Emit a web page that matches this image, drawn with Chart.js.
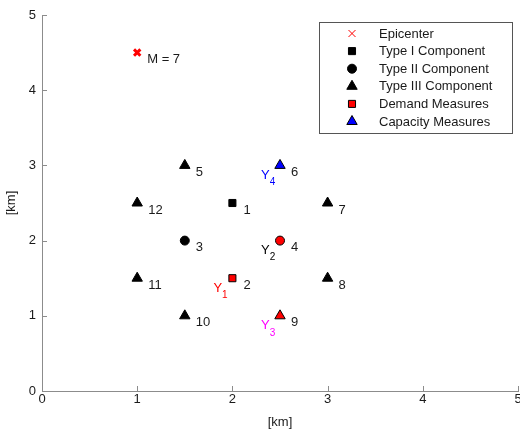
<!DOCTYPE html>
<html>
<head>
<meta charset="utf-8">
<script src="https://cdn.jsdelivr.net/npm/chart.js@4.4.1/dist/chart.umd.min.js"></script>
<style>
  html, body { margin: 0; padding: 0; background: #fff; }
  #wrap { width: 520px; height: 435px; }
</style>
</head>
<body>
<div id="wrap"><canvas id="chart" width="520" height="435"></canvas></div>
<script>
// epicenter
const epicenterX = [1];
const epicenterY = [4.5];
const epicenterText = 'M = 7';

// components, numbered 1..12
const compIds = ['1', '2', '3', '4', '5', '6', '7', '8', '9', '10', '11', '12'];
const compX = [2, 2, 1.5, 2.5, 1.5, 2.5, 3, 3, 2.5, 1.5, 1, 1];
const compY = [2.5, 1.5, 2, 2, 3, 3, 2.5, 1.5, 1, 1, 1.5, 2.5];
const compShape = ['rect', 'rect', 'circle', 'circle', 'triangle', 'triangle', 'triangle', 'triangle', 'triangle', 'triangle', 'triangle', 'triangle'];
const compGroup = ['I', 'D', 'II', 'D', 'III', 'C', 'III', 'III', 'D', 'III', 'III', 'III'];

// measures Y1..Y4 and the component each sits on
const measureSubs = ['1', '2', '3', '4'];
const measureComp = [2, 4, 9, 6];
const measureColors = ['#ff0000', '#000000', '#ff00ff', '#0000ff'];

const legendNames = ['Epicenter', 'Type I Component', 'Type II Component', 'Type III Component', 'Demand Measures', 'Capacity Measures'];
const xTicks = [0, 1, 2, 3, 4, 5];
const yTicks = [0, 1, 2, 3, 4, 5];

const FONT = '"Liberation Sans", Arial, sans-serif';

const pick = g => compIds.map((id, i) => i).filter(i => compGroup[i] === g);
const pts = g => pick(g).map(i => ({ x: compX[i], y: compY[i] }));
const shapes = g => pick(g).map(i => compShape[i]);
const radii = g => pick(g).map(i => compShape[i] === 'rect' ? 5 : compShape[i] === 'circle' ? 4.5 : 6);

const datasets = [
  { label: legendNames[0], data: epicenterX.map((x, i) => ({ x, y: epicenterY[i] })),
    pointStyle: 'crossRot', pointRadius: 4.5, borderColor: '#ff0000', borderWidth: 3, backgroundColor: '#ff0000' },
  { label: legendNames[1], data: pts('I'), pointStyle: shapes('I'), pointRadius: radii('I'),
    backgroundColor: '#000', borderColor: '#000', borderWidth: 1 },
  { label: legendNames[2], data: pts('II'), pointStyle: shapes('II'), pointRadius: radii('II'),
    backgroundColor: '#000', borderColor: '#000', borderWidth: 1 },
  { label: legendNames[3], data: pts('III'), pointStyle: shapes('III'), pointRadius: radii('III'),
    backgroundColor: '#000', borderColor: '#000', borderWidth: 1 },
  { label: legendNames[4], data: pts('D'), pointStyle: shapes('D'), pointRadius: radii('D'),
    backgroundColor: '#ff0000', borderColor: '#000', borderWidth: 1 },
  { label: legendNames[5], data: pts('C'), pointStyle: shapes('C'), pointRadius: radii('C'),
    backgroundColor: '#0000ff', borderColor: '#000', borderWidth: 1 }
];

// number labels, Y labels, inward ticks and the boxed legend
const annotate = {
  id: 'annotate',
  afterDraw(chart) {
    const ctx = chart.ctx;
    const xs = chart.scales.x, ys = chart.scales.y;
    const area = chart.chartArea;
    ctx.save();

    // inward tick marks
    ctx.strokeStyle = '#8c8c8c';
    ctx.lineWidth = 1;
    ctx.beginPath();
    xTicks.forEach(v => {
      const px = Math.round(xs.getPixelForValue(v)) + 0.5;
      ctx.moveTo(px, area.bottom); ctx.lineTo(px, area.bottom - 5);
    });
    yTicks.forEach(v => {
      const py = Math.round(ys.getPixelForValue(v)) + 0.5;
      ctx.moveTo(area.left, py); ctx.lineTo(area.left + 5, py);
    });
    ctx.stroke();

    ctx.font = '13px ' + FONT;
    ctx.textBaseline = 'middle';
    ctx.textAlign = 'left';
    ctx.fillStyle = '#1a1a1a';

    // epicenter magnitude
    ctx.fillText(epicenterText, xs.getPixelForValue(epicenterX[0]) + 10, ys.getPixelForValue(epicenterY[0]) + 7);

    // component numbers
    compIds.forEach((id, i) => {
      ctx.fillText(id, xs.getPixelForValue(compX[i]) + 11, ys.getPixelForValue(compY[i]) + 7);
    });

    // measure labels with subscripts
    measureSubs.forEach((s, k) => {
      const i = measureComp[k] - 1;
      const px = xs.getPixelForValue(compX[i]) - 19;
      const py = ys.getPixelForValue(compY[i]) + 10;
      ctx.fillStyle = measureColors[k];
      ctx.font = '13px ' + FONT;
      ctx.fillText('Y', px, py);
      const w = ctx.measureText('Y').width;
      ctx.font = '10px ' + FONT;
      ctx.fillText(s, px + w, py + 7);
    });

    // legend box
    const lx = 319.5, ly = 22.5, lw = 193, lh = 111;
    ctx.fillStyle = '#fff';
    ctx.fillRect(lx, ly, lw, lh);
    ctx.strokeStyle = '#555';
    ctx.lineWidth = 1;
    ctx.strokeRect(lx, ly, lw, lh);
    ctx.font = '13px ' + FONT;
    chart.data.datasets.forEach((ds, k) => {
      const cy = 33.5 + k * 17.6;
      const mx = 352;
      const style = Array.isArray(ds.pointStyle) ? ds.pointStyle[0] : ds.pointStyle;
      const r = k === 0 ? 3.5 : (Array.isArray(ds.pointRadius) ? ds.pointRadius[0] : ds.pointRadius);
      ctx.fillStyle = ds.backgroundColor;
      ctx.strokeStyle = ds.borderColor;
      ctx.lineWidth = 1;
      ctx.beginPath();
      if (style === 'crossRot') {
        ctx.moveTo(mx - r, cy - r); ctx.lineTo(mx + r, cy + r);
        ctx.moveTo(mx - r, cy + r); ctx.lineTo(mx + r, cy - r);
        ctx.stroke();
      } else if (style === 'rect') {
        const h = r * Math.SQRT1_2;
        ctx.rect(mx - h, cy - h, 2 * h, 2 * h);
        ctx.fill(); ctx.stroke();
      } else if (style === 'circle') {
        ctx.arc(mx, cy, r, 0, Math.PI * 2);
        ctx.fill(); ctx.stroke();
      } else {
        ctx.moveTo(mx, cy - r);
        ctx.lineTo(mx + r * 0.866, cy + r * 0.5);
        ctx.lineTo(mx - r * 0.866, cy + r * 0.5);
        ctx.closePath();
        ctx.fill(); ctx.stroke();
      }
      ctx.fillStyle = '#1a1a1a';
      ctx.fillText(ds.label, 379, cy + 0.5);
    });
    ctx.restore();
  }
};

new Chart(document.getElementById('chart'), {
  type: 'scatter',
  data: { datasets },
  options: {
    responsive: false,
    animation: false,
    layout: { autoPadding: false, padding: { top: 15, right: 2, left: 0, bottom: 0 } },
    plugins: { legend: { display: false }, tooltip: { enabled: false } },
    scales: {
      x: {
        type: 'linear', min: 0, max: 5,
        afterFit(s) { s.paddingLeft = 0; s.paddingRight = 0; s.height = 44; },
        grid: { display: false, drawTicks: false },
        border: { display: true, color: '#8c8c8c', width: 1 },
        ticks: { stepSize: 1, padding: 1, color: '#1a1a1a', font: { family: FONT, size: 13 } },
        title: { display: true, text: '[km]', color: '#1a1a1a', font: { family: FONT, size: 13 }, padding: { top: 5, bottom: 5 } }
      },
      y: {
        type: 'linear', min: 0, max: 5,
        afterFit(s) { s.paddingTop = 0; s.paddingBottom = 0; s.width = 42; },
        grid: { display: false, drawTicks: false },
        border: { display: true, color: '#8c8c8c', width: 1 },
        ticks: { stepSize: 1, padding: 6, color: '#1a1a1a', font: { family: FONT, size: 13 } },
        title: { display: true, text: '[km]', color: '#1a1a1a', font: { family: FONT, size: 13 }, padding: { top: 4, bottom: 4 } }
      }
    }
  },
  plugins: [annotate]
});
</script>
</body>
</html>
